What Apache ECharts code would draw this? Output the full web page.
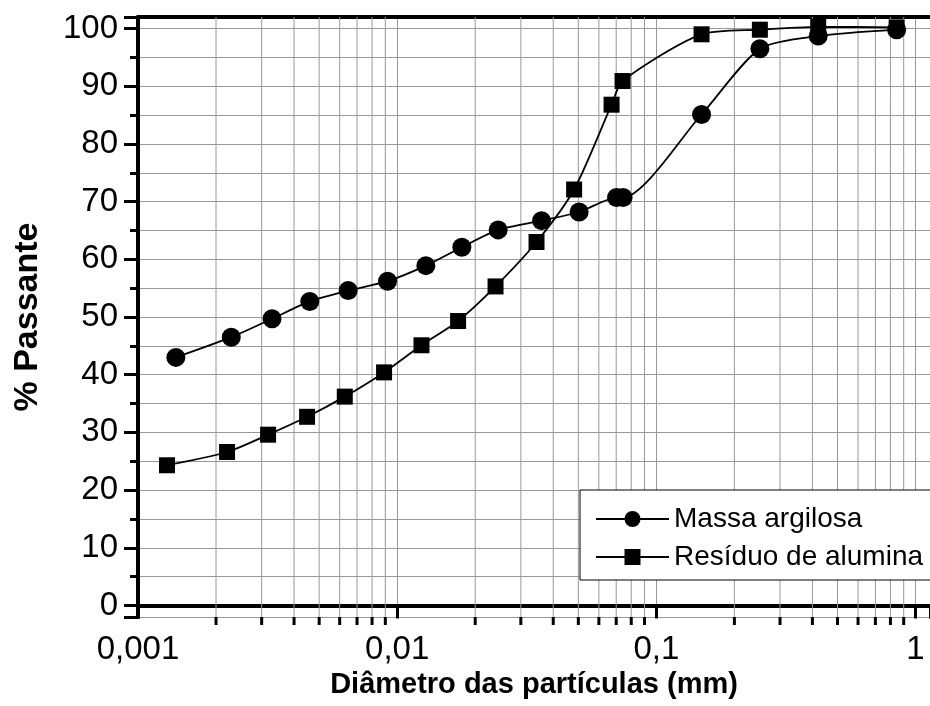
<!DOCTYPE html>
<html lang="pt">
<head>
    <meta charset="UTF-8">
    <title>Distribuição granulométrica</title>
    <script src="https://cdn.jsdelivr.net/npm/echarts@6/dist/echarts.min.js"></script>
    <style>
        html, body { margin: 0; padding: 0; background: #fff; }
        #main { width: 930px; height: 706px; }
    </style>
</head>
<body>
<div id="main"></div>
<script>
    // diametro (mm) e % passante
    var massaDiam = [0.0014, 0.00229, 0.00329, 0.0046, 0.00647, 0.00918, 0.0129, 0.01776, 0.02452, 0.03605, 0.05035, 0.0702, 0.0744, 0.1494, 0.2508, 0.4212, 0.8453];
    var massaPass = [43.0, 46.5, 49.7, 52.7, 54.6, 56.2, 58.9, 62.1, 65.1, 66.7, 68.2, 70.7, 70.7, 85.1, 96.5, 98.7, 99.8];
    var residuoDiam = [0.001294, 0.002206, 0.003176, 0.004491, 0.006278, 0.0089, 0.01241, 0.01718, 0.02396, 0.03448, 0.04816, 0.06717, 0.07405, 0.1494, 0.2508, 0.4212, 0.8453];
    var residuoPass = [24.3, 26.6, 29.6, 32.7, 36.2, 40.4, 45.1, 49.3, 55.3, 63.0, 72.1, 86.8, 90.9, 99.0, 99.8, 100.3, 100.2];
    var seriesNames = ['Massa argilosa', 'Resíduo de alumina'];
    // linhas secundarias da escala log (2..9 de cada decada)
    var minorX = [0.002, 0.003, 0.004, 0.005, 0.006, 0.007, 0.008, 0.009,
                  0.02, 0.03, 0.04, 0.05, 0.06, 0.07, 0.08, 0.09,
                  0.2, 0.3, 0.4, 0.5, 0.6, 0.7, 0.8, 0.9];

    var xMin = 0.001, xMax = 1.137;
    var yMin = -2, yMax = 102;
    var fonte = "'Liberation Sans', Arial, sans-serif";

    function pairs(xs, ys) {
        var out = [];
        for (var i = 0; i < xs.length; i++) out.push([xs[i], ys[i]]);
        return out;
    }

    var myChart = echarts.init(document.getElementById('main'));
    var option = {
        backgroundColor: '#fff',
        animation: false,
        grid: { left: 138, right: 0, top: 17, bottom: 89, containLabel: false, outerBoundsMode: 'none' },
        legend: {
            data: seriesNames,
            orient: 'vertical',
            left: 580,
            top: 490,
            padding: [15, 80, 9, 15],
            itemGap: 10,
            itemWidth: 73,
            itemHeight: 20,
            backgroundColor: '#fff',
            borderColor: '#000',
            borderWidth: 1,
            borderRadius: 0,
            textStyle: { fontSize: 28, fontFamily: fonte, color: '#000' }
        },
        xAxis: [{
            type: 'log',
            logBase: 10,
            min: xMin,
            max: xMax,
            name: 'Diâmetro das partículas (mm)',
            nameLocation: 'middle',
            nameGap: 52,
            nameTextStyle: { fontSize: 29, fontWeight: 'bold', fontFamily: fonte, color: '#000' },
            axisLine: { lineStyle: { color: '#000', width: 4 } },
            axisTick: { length: 13, lineStyle: { color: '#000', width: 3 } },
            axisLabel: {
                margin: 16, fontSize: 33, fontFamily: fonte, color: '#000',
                formatter: function (v) {
                    var e = Math.log10(v);
                    if (Math.abs(e - Math.round(e)) > 1e-6) return '';
                    return String(Number(v.toPrecision(6))).replace('.', ',');
                }
            },
            splitLine: { show: true, lineStyle: { color: '#999', width: 1 } },
            minorTick: { show: false },
            minorSplitLine: { show: false }
        }, {
            type: 'log',
            logBase: 10,
            min: xMin,
            max: xMax,
            position: 'top',
            axisLine: { lineStyle: { color: '#000', width: 4 } },
            axisTick: { show: false },
            axisLabel: { show: false },
            splitLine: { show: false }
        }],
        yAxis: {
            type: 'value',
            min: yMin,
            max: yMax,
            splitNumber: 10,
            name: '% Passante',
            nameLocation: 'middle',
            nameGap: 93,
            nameTextStyle: { fontSize: 34, fontWeight: 'bold', fontFamily: fonte, color: '#000' },
            axisLine: { show: true, lineStyle: { color: '#000', width: 4 } },
            axisTick: { length: 14, lineStyle: { color: '#000', width: 3 } },
            minorTick: { show: true, splitNumber: 2, length: 8, lineStyle: { color: '#000', width: 3 } },
            axisLabel: {
                margin: 20, fontSize: 33, fontFamily: fonte, color: '#000',
                formatter: function (v) { return (v % 10 === 0) ? String(v) : ''; }
            },
            splitLine: { show: true, lineStyle: { color: '#999', width: 1 } },
            minorSplitLine: { show: true, lineStyle: { color: '#999', width: 1 } }
        },
        series: [{
            name: 'grade',
            type: 'custom',
            silent: true,
            z: 1,
            data: minorX.map(function (v) { return [v, 0]; }),
            renderItem: function (params, api) {
                var x = api.value(0);
                var top = api.coord([x, yMax]);
                var bottom = api.coord([x, yMin]);
                return {
                    type: 'group',
                    children: [{
                        type: 'line',
                        shape: { x1: top[0], y1: top[1], x2: bottom[0], y2: bottom[1] },
                        style: { stroke: '#999', lineWidth: 1 }
                    }, {
                        type: 'line',
                        shape: { x1: bottom[0], y1: bottom[1], x2: bottom[0], y2: bottom[1] + 8 },
                        style: { stroke: '#000', lineWidth: 3 }
                    }]
                };
            }
        }, {
            name: seriesNames[0],
            type: 'line',
            z: 3,
            smooth: 0.25,
            symbol: 'circle',
            symbolSize: 19,
            lineStyle: { color: '#000', width: 1.8 },
            itemStyle: { color: '#000' },
            data: pairs(massaDiam, massaPass)
        }, {
            name: seriesNames[1],
            type: 'line',
            z: 3,
            smooth: 0.25,
            symbol: 'rect',
            symbolSize: 16,
            lineStyle: { color: '#000', width: 1.8 },
            itemStyle: { color: '#000' },
            data: pairs(residuoDiam, residuoPass)
        }]
    };
    myChart.setOption(option);
</script>
</body>
</html>
